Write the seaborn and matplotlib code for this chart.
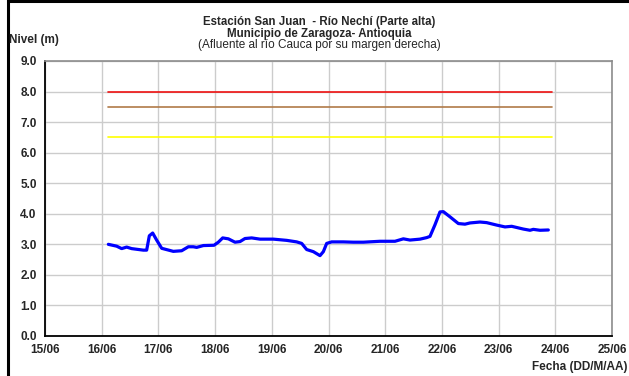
import pandas as pd
import matplotlib
matplotlib.use('Agg')
import matplotlib.pyplot as plt
import matplotlib.dates as mdates
from matplotlib.patches import Rectangle
import seaborn as sns

# %%
inicio = pd.Timestamp('2010-06-15')

# dias desde el 15/06 (fraccion de dia) y nivel (m)
dias = [1.117, 1.264, 1.352, 1.440, 1.528, 1.734, 1.793, 1.840, 1.899, 1.969,
        2.058, 2.263, 2.410, 2.528, 2.616, 2.675, 2.793, 2.981, 3.057, 3.134,
        3.234, 3.351, 3.439, 3.527, 3.645, 3.792, 4.027, 4.262, 4.439, 4.527,
        4.615, 4.733, 4.850, 4.909, 4.968, 5.056, 5.261, 5.437, 5.615, 5.908,
        6.173, 6.320, 6.437, 6.614, 6.732, 6.790, 6.878, 6.966, 7.025, 7.143,
        7.290, 7.407, 7.496, 7.672, 7.790, 7.966, 8.113, 8.231, 8.436, 8.554,
        8.612, 8.730, 8.877]
nivel = [3.00, 2.94, 2.86, 2.91, 2.86, 2.81, 2.81, 3.28, 3.37, 3.14,
         2.87, 2.77, 2.79, 2.92, 2.92, 2.90, 2.96, 2.97, 3.07, 3.21,
         3.18, 3.07, 3.09, 3.19, 3.21, 3.17, 3.17, 3.13, 3.08, 3.03,
         2.83, 2.76, 2.63, 2.76, 3.03, 3.08, 3.08, 3.07, 3.07, 3.10,
         3.10, 3.18, 3.14, 3.17, 3.22, 3.26, 3.64, 4.06, 4.07, 3.90,
         3.68, 3.66, 3.70, 3.73, 3.71, 3.63, 3.57, 3.59, 3.50, 3.46,
         3.49, 3.46, 3.47]

# umbrales de alerta
umbral_dias = [1.11, 8.94]
umbral_rojo = 8.0
umbral_naranja = 7.5
umbral_amarillo = 6.5

titulo1 = 'Estación San Juan  - Río Nechí (Parte alta)'
titulo2 = 'Municipio de Zaragoza- Antioquia'
titulo3 = '(Afluente al río Cauca por su margen derecha)'

# %%
sns.set_style('white')
plt.rcParams['font.family'] = ['Liberation Sans', 'DejaVu Sans']

fechas = inicio + pd.to_timedelta(dias, unit='D')
fechas_umbral = inicio + pd.to_timedelta(umbral_dias, unit='D')
df = pd.DataFrame({'Fecha': fechas, 'Nivel': nivel})

fig = plt.figure(figsize=(6.29, 3.76), dpi=100)
ax = fig.add_axes([45 / 629, 40 / 376, 567 / 629, 275 / 376])

for valor, color in [(umbral_rojo, '#ee1111'), (umbral_naranja, '#b07a48'),
                     (umbral_amarillo, '#ffff00')]:
    sns.lineplot(x=fechas_umbral, y=[valor, valor], color=color, lw=1.2, ax=ax)

sns.lineplot(data=df, x='Fecha', y='Nivel', color='#0000ff', lw=2.3, ax=ax)

ax.set_xlim(inicio, inicio + pd.Timedelta(days=10))
ax.set_ylim(0, 9)
ax.set_yticks([i for i in range(10)])
ax.yaxis.set_major_formatter(plt.FormatStrFormatter('%.1f'))
ax.xaxis.set_major_locator(mdates.DayLocator())
ax.xaxis.set_major_formatter(mdates.DateFormatter('%d/%m'))
ax.grid(True, color='#cccccc', lw=1)
ax.set_xlabel('')
ax.set_ylabel('')
ax.tick_params(axis='both', direction='out', length=4, width=1, color='black',
               labelsize=8.5, pad=2)
for lab in ax.get_xticklabels() + ax.get_yticklabels():
    lab.set_fontweight('bold')
for s in ['left', 'bottom']:
    ax.spines[s].set_color('black')
    ax.spines[s].set_linewidth(1.3)
for s in ['top', 'right']:
    ax.spines[s].set_color('#8c8c8c')
    ax.spines[s].set_linewidth(1.2)

fig.text(319 / 629, 1 - 22 / 376, titulo1, ha='center', va='center', fontsize=8.3, fontweight='bold')
fig.text(319 / 629, 1 - 33.5 / 376, titulo2, ha='center', va='center', fontsize=8.3, fontweight='bold')
fig.text(319 / 629, 1 - 45 / 376, titulo3, ha='center', va='center', fontsize=8.5)
fig.text(9 / 629, 1 - 40 / 376, 'Nivel (m)', ha='left', va='center', fontsize=8.5, fontweight='bold')
fig.text(627 / 629, 1 - 367 / 376, 'Fecha (DD/M/AA)', ha='right', va='center', fontsize=8.5, fontweight='bold')

# marco del grafico
fig.add_artist(Rectangle((7.5 / 629, -0.1), 1.2, 1.1 - 1.4 / 376, transform=fig.transFigure,
                         fill=False, edgecolor='black', lw=2.2))

fig.savefig('out.png', dpi=100)
